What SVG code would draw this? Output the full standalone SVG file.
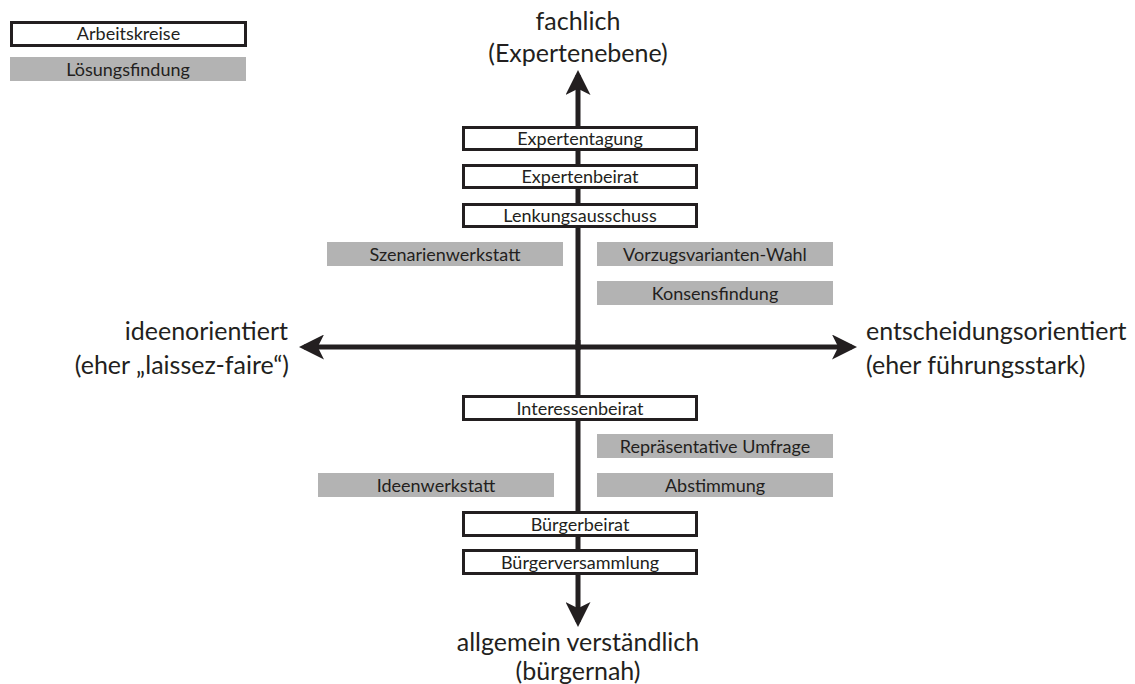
<svg xmlns="http://www.w3.org/2000/svg" width="1135" height="684" viewBox="0 0 1135 684">
<style>
.w{fill:#fff;stroke:#231f20;stroke-width:3}
.g{fill:#b3b3b3}
.t{font-family:Lato,"Open Sans",sans-serif;font-size:18px;fill:#231f20;text-anchor:middle}
.a{font-family:Lato,"Open Sans",sans-serif;font-size:25px;fill:#231f20}
.ax{stroke:#231f20;stroke-width:5;fill:none}
</style>
<defs>
<marker id="ah" viewBox="0 0 10 10" refX="8" refY="5" markerWidth="5" markerHeight="5" orient="auto" markerUnits="strokeWidth">
<path d="M0,0 L10,5 L0,10 L2.5,5 Z" fill="#231f20"/>
</marker>
</defs>
<g id="connectors">
<line class="ax" x1="578" y1="350" x2="578" y2="75" marker-end="url(#ah)"/>
<line class="ax" x1="578" y1="340" x2="578" y2="622" marker-end="url(#ah)"/>
<line class="ax" x1="578" y1="347" x2="304" y2="347" marker-end="url(#ah)"/>
<line class="ax" x1="578" y1="347" x2="852" y2="347" marker-end="url(#ah)"/>
</g>
<g id="legend-arbeitskreise"><rect class="w" x="11.5" y="22.5" width="234" height="23"/><text class="t" x="128.5" y="40">Arbeitskreise</text></g>
<g id="legend-loesungsfindung"><rect class="g" x="10" y="57" width="236" height="24"/><text class="t" x="128" y="75.5">Lösungsfindung</text></g>
<g id="label-top"><text class="a" x="578" y="30" text-anchor="middle">fachlich</text><text class="a" x="578" y="62" text-anchor="middle">(Expertenebene)</text></g>
<g id="label-left"><text class="a" x="288" y="340" text-anchor="end">ideenorientiert</text><text class="a" x="289" y="374" text-anchor="end">(eher „laissez-faire“)</text></g>
<g id="label-right"><text class="a" x="866" y="340">entscheidungsorientiert</text><text class="a" x="866" y="374">(eher führungsstark)</text></g>
<g id="label-bottom"><text class="a" x="578" y="651" text-anchor="middle">allgemein verständlich</text><text class="a" x="578" y="680" text-anchor="middle">(bürgernah)</text></g>
<g id="expertentagung"><rect class="w" x="463.5" y="127.5" width="233" height="22"/><text class="t" x="580" y="144.5">Expertentagung</text></g>
<g id="expertenbeirat"><rect class="w" x="463.5" y="165.5" width="233" height="22"/><text class="t" x="580" y="182.5">Expertenbeirat</text></g>
<g id="lenkungsausschuss"><rect class="w" x="463.5" y="204.5" width="233" height="22"/><text class="t" x="580" y="221.5">Lenkungsausschuss</text></g>
<g id="szenarienwerkstatt"><rect class="g" x="327" y="242" width="236" height="24"/><text class="t" x="445" y="260.5">Szenarienwerkstatt</text></g>
<g id="vorzugsvarianten"><rect class="g" x="597" y="242" width="236" height="24"/><text class="t" x="715" y="260.5">Vorzugsvarianten-Wahl</text></g>
<g id="konsensfindung"><rect class="g" x="597" y="281" width="236" height="24"/><text class="t" x="715" y="299.5">Konsensfindung</text></g>
<g id="interessenbeirat"><rect class="w" x="463.5" y="396.5" width="233" height="23"/><text class="t" x="580" y="414.5">Interessenbeirat</text></g>
<g id="repraesentative-umfrage"><rect class="g" x="597" y="434" width="236" height="24"/><text class="t" x="715" y="452.5">Repräsentative Umfrage</text></g>
<g id="ideenwerkstatt"><rect class="g" x="318" y="473" width="236" height="24"/><text class="t" x="436" y="491.5">Ideenwerkstatt</text></g>
<g id="abstimmung"><rect class="g" x="597" y="473" width="236" height="24"/><text class="t" x="715" y="491.5">Abstimmung</text></g>
<g id="buergerbeirat"><rect class="w" x="463.5" y="512.5" width="233" height="23"/><text class="t" x="580" y="530.5">Bürgerbeirat</text></g>
<g id="buergerversammlung"><rect class="w" x="463.5" y="550.5" width="233" height="23"/><text class="t" x="580" y="568.5">Bürgerversammlung</text></g>
</svg>
